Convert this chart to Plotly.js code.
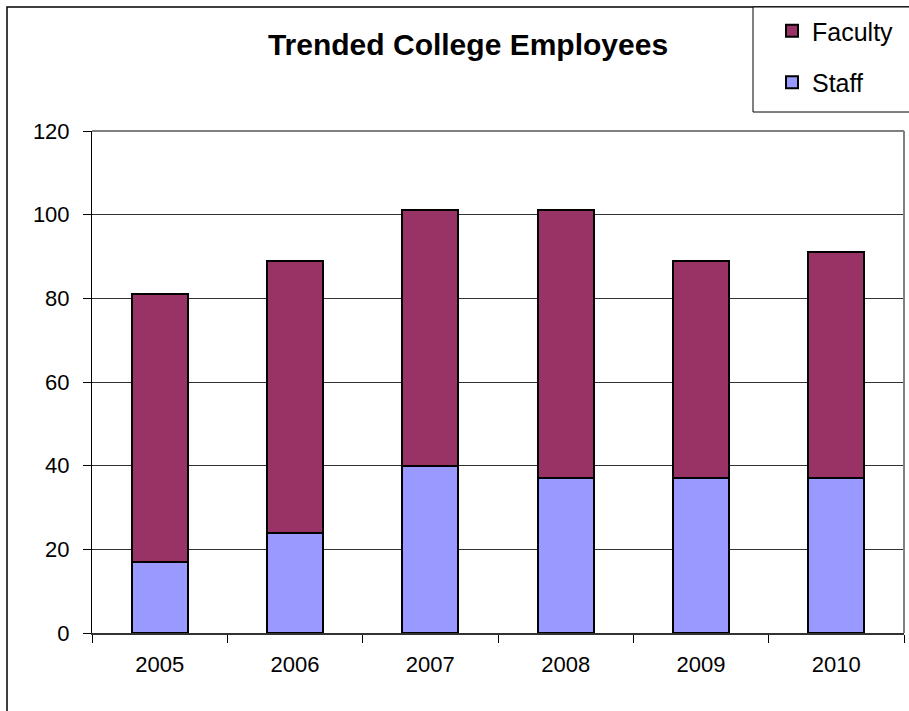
<!DOCTYPE html>
<html><head><meta charset="utf-8">
<script src="https://cdn.plot.ly/plotly-3.0.1.min.js"></script>
<style>html,body{margin:0;padding:0;background:#fff;}#chart{width:909px;height:711px;}</style>
</head><body><div id="chart"></div>
<script>
const years = ['2005','2006','2007','2008','2009','2010'];
const staff = [17, 24, 40, 37, 37, 37];
const faculty = [64, 65, 61, 64, 52, 54];
const yTicks = [0, 20, 40, 60, 80, 100, 120];

const FONT = 'Arial, "Liberation Sans", sans-serif';
const W = 909, H = 711, L = 92, R = 5, T = 131, B = 78;
const pw = W - L - R, ph = H - T - B;
const px = v => (v - L) / pw;
const py = v => (H - B - v) / ph;

const traces = [
  {type:'bar', name:'Staff', x:years, y:staff, legendgroup:'s', legendrank:2,
   marker:{color:'#9999FF', line:{color:'#000', width:2}}},
  {type:'bar', name:'Faculty', x:years, y:faculty, legendgroup:'f', legendrank:1,
   marker:{color:'#993366', line:{color:'#000', width:2}}}
];

const layout = {
  width:W, height:H,
  margin:{l:L, r:R, t:T, b:B, pad:0},
  paper_bgcolor:'#fff', plot_bgcolor:'#fff',
  barmode:'stack', bargap:0.586,
  font:{family:FONT, size:22, color:'#000'},
  title:{text:'<b>Trended College Employees</b>', font:{family:FONT, size:30, color:'#000'},
         x:px(468), xanchor:'center', xref:'paper', y:1-44/H, yanchor:'middle'},
  xaxis:{type:'category', showgrid:false, showline:true, linecolor:'#333', linewidth:2,
         ticks:'outside', ticklen:8, tickcolor:'#000', tickson:'boundaries',
         ticklabelstandoff:11,
         tickfont:{family:FONT, size:22}, fixedrange:true},
  yaxis:{range:[0,120], tickvals:yTicks, showgrid:true, gridcolor:'#333', gridwidth:1,
         showline:true, linecolor:'#000', linewidth:1, ticks:'outside', ticklen:8, tickcolor:'#000',
         ticklabelstandoff:9,
         tickfont:{family:FONT, size:22}, zeroline:false, fixedrange:true},
  showlegend:true,
  legend:{x:px(772), xanchor:'left', y:py(8), yanchor:'top', traceorder:'grouped',
          tracegroupgap:16, borderwidth:0, bgcolor:'rgba(0,0,0,0)',
          font:{family:FONT, size:25}, itemwidth:30},
  shapes:[
    {type:'rect', xref:'paper', yref:'paper', x0:px(7), x1:px(920), y0:py(720), y1:py(7),
     line:{color:'#000', width:1.5}, layer:'below'},
    {type:'rect', xref:'paper', yref:'paper', x0:px(753), x1:px(920), y0:py(112), y1:py(7),
     line:{color:'#000', width:1}, fillcolor:'#fff', layer:'below'},
    {type:'line', xref:'paper', yref:'paper', x0:0, x1:1, y0:1, y1:1, line:{color:'#808080', width:2}},
    {type:'line', xref:'paper', yref:'paper', x0:1, x1:1, y0:0, y1:1, line:{color:'#808080', width:2}}
  ]
};
Plotly.newPlot('chart', traces, layout, {displayModeBar:false, staticPlot:true});
</script></body></html>
